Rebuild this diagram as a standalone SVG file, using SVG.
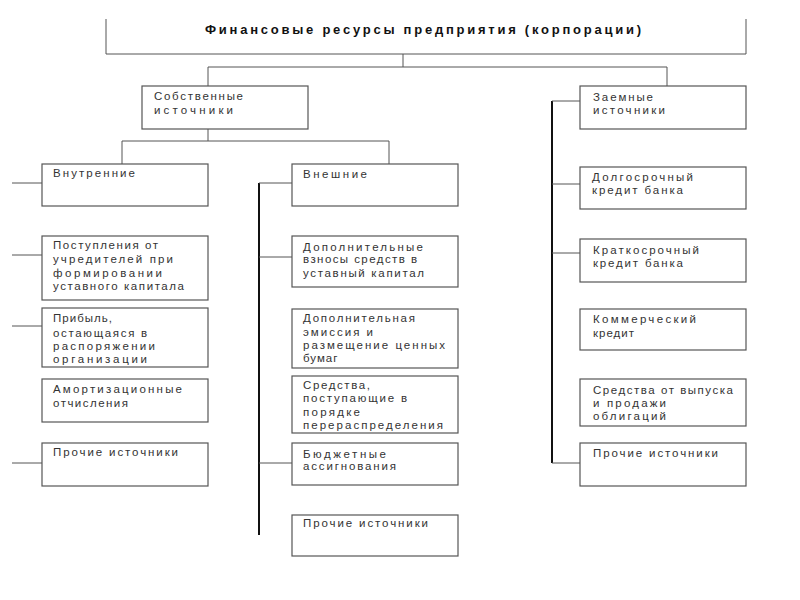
<svg xmlns="http://www.w3.org/2000/svg" width="800" height="600" viewBox="0 0 800 600">
<style>
.bx{fill:#fff;stroke:#555;stroke-width:1.2}
.ln{fill:none;stroke:#555;stroke-width:1}
.tk{fill:none;stroke:#111;stroke-width:2}
.t{font-family:"Liberation Sans",Arial,sans-serif;font-size:11.5px;fill:#333}
.ls{letter-spacing:1px}
.h{font-family:"Liberation Sans",Arial,sans-serif;font-size:13px;font-weight:bold;fill:#111}
</style>
<rect width="800" height="600" fill="#fff"/>
<g id="connectors">
<path class="ln" d="M403,54V67M208,67H667M208,67V86M667,67V86"/>
<path class="ln" d="M208,129V141M122,141H389M122,141V164M389,141V164"/>
<path class="ln" d="M12,183H42M12,255H42M12,326H42M12,463H42"/>
<path class="tk" d="M259,183V535"/>
<path class="ln" d="M259,183H292M259,257H292M259,463H292"/>
<path class="tk" d="M552,101V463"/>
<path class="ln" d="M552,101H580M552,184H580M552,253H580M552,463H580"/>
</g>
<g id="root">
<path class="ln" d="M106,19V54H746V19" stroke="#777"/>
<text class="h" x="205" y="34" textLength="436" lengthAdjust="spacing">Финансовые ресурсы предприятия (корпорации)</text>
</g>
<g id="own"><rect class="bx" x="142" y="86" width="166" height="43"/>
<text class="t" x="154" y="100" textLength="89" lengthAdjust="spacing">Собственные</text>
<text class="t" x="154" y="114" textLength="79" lengthAdjust="spacing">источники</text></g>
<g id="borrowed"><rect class="bx" x="580" y="86" width="166" height="43"/>
<text class="t" x="593" y="101" textLength="60" lengthAdjust="spacing">Заемные</text>
<text class="t" x="593" y="114" textLength="72" lengthAdjust="spacing">источники</text></g>
<g id="internal"><rect class="bx" x="42" y="164" width="166" height="42"/>
<text class="t" x="53" y="177" textLength="82" lengthAdjust="spacing">Внутренние</text></g>
<g id="external"><rect class="bx" x="292" y="164" width="166" height="42"/>
<text class="t" x="303" y="178" textLength="64" lengthAdjust="spacing">Внешние</text></g>
<g id="founders"><rect class="bx" x="42" y="236" width="166" height="64"/>
<text class="t" x="53" y="249" textLength="105" lengthAdjust="spacing">Поступления от</text>
<text class="t" x="53" y="263" textLength="120" lengthAdjust="spacing">учредителей при</text>
<text class="t" x="53" y="277" textLength="109" lengthAdjust="spacing">формировании</text>
<text class="t" x="53" y="290" textLength="131" lengthAdjust="spacing">уставного капитала</text></g>
<g id="profit"><rect class="bx" x="42" y="308" width="166" height="59"/>
<text class="t" x="53" y="322" textLength="59" lengthAdjust="spacing">Прибыль,</text>
<text class="t" x="53" y="337" textLength="94" lengthAdjust="spacing">остающаяся в</text>
<text class="t" x="53" y="350" textLength="102" lengthAdjust="spacing">распоряжении</text>
<text class="t" x="53" y="363" textLength="94" lengthAdjust="spacing">организации</text></g>
<g id="amort"><rect class="bx" x="42" y="379" width="166" height="43"/>
<text class="t" x="53" y="393" textLength="129" lengthAdjust="spacing">Амортизационные</text>
<text class="t" x="53" y="407" textLength="75" lengthAdjust="spacing">отчисления</text></g>
<g id="other-int"><rect class="bx" x="42" y="443" width="166" height="43"/>
<text class="t" x="53" y="456" textLength="125" lengthAdjust="spacing">Прочие источники</text></g>
<g id="contrib"><rect class="bx" x="292" y="236" width="166" height="51"/>
<text class="t" x="303" y="251" textLength="120" lengthAdjust="spacing">Дополнительные</text>
<text class="t" x="303" y="263" textLength="114" lengthAdjust="spacing">взносы средств в</text>
<text class="t" x="303" y="277" textLength="121" lengthAdjust="spacing">уставный капитал</text></g>
<g id="emission"><rect class="bx" x="292" y="309" width="166" height="59"/>
<text class="t" x="303" y="322" textLength="112" lengthAdjust="spacing">Дополнительная</text>
<text class="t" x="303" y="336" textLength="70" lengthAdjust="spacing">эмиссия и</text>
<text class="t" x="303" y="349" textLength="142" lengthAdjust="spacing">размещение ценных</text>
<text class="t ls" x="303" y="362">бумаг</text></g>
<g id="redistrib"><rect class="bx" x="292" y="376" width="166" height="57"/>
<text class="t" x="303" y="389" textLength="67" lengthAdjust="spacing">Средства,</text>
<text class="t" x="303" y="402" textLength="104" lengthAdjust="spacing">поступающие в</text>
<text class="t" x="303" y="416" textLength="57" lengthAdjust="spacing">порядке</text>
<text class="t" x="303" y="429" textLength="140" lengthAdjust="spacing">перераспределения</text></g>
<g id="budget"><rect class="bx" x="292" y="443" width="166" height="42"/>
<text class="t" x="303" y="458" textLength="83" lengthAdjust="spacing">Бюджетные</text>
<text class="t" x="303" y="470" textLength="93" lengthAdjust="spacing">ассигнования</text></g>
<g id="other-ext"><rect class="bx" x="292" y="515" width="166" height="41"/>
<text class="t" x="303" y="527" textLength="125" lengthAdjust="spacing">Прочие источники</text></g>
<g id="longterm"><rect class="bx" x="580" y="167" width="166" height="42"/>
<text class="t" x="592" y="181" textLength="101" lengthAdjust="spacing">Долгосрочный</text>
<text class="t" x="592" y="194" textLength="91" lengthAdjust="spacing">кредит банка</text></g>
<g id="shortterm"><rect class="bx" x="580" y="239" width="166" height="43"/>
<text class="t" x="593" y="254" textLength="106" lengthAdjust="spacing">Краткосрочный</text>
<text class="t" x="593" y="267" textLength="90" lengthAdjust="spacing">кредит банка</text></g>
<g id="commercial"><rect class="bx" x="580" y="309" width="166" height="41"/>
<text class="t" x="593" y="323" textLength="103" lengthAdjust="spacing">Коммерческий</text>
<text class="t ls" x="593" y="337">кредит</text></g>
<g id="bonds"><rect class="bx" x="580" y="379" width="166" height="47"/>
<text class="t" x="593" y="394" textLength="140" lengthAdjust="spacing">Средства от выпуска</text>
<text class="t" x="593" y="407" textLength="73" lengthAdjust="spacing">и продажи</text>
<text class="t" x="593" y="420" textLength="73" lengthAdjust="spacing">облигаций</text></g>
<g id="other-borr"><rect class="bx" x="580" y="443" width="166" height="43"/>
<text class="t" x="593" y="457" textLength="125" lengthAdjust="spacing">Прочие источники</text></g>
</svg>
